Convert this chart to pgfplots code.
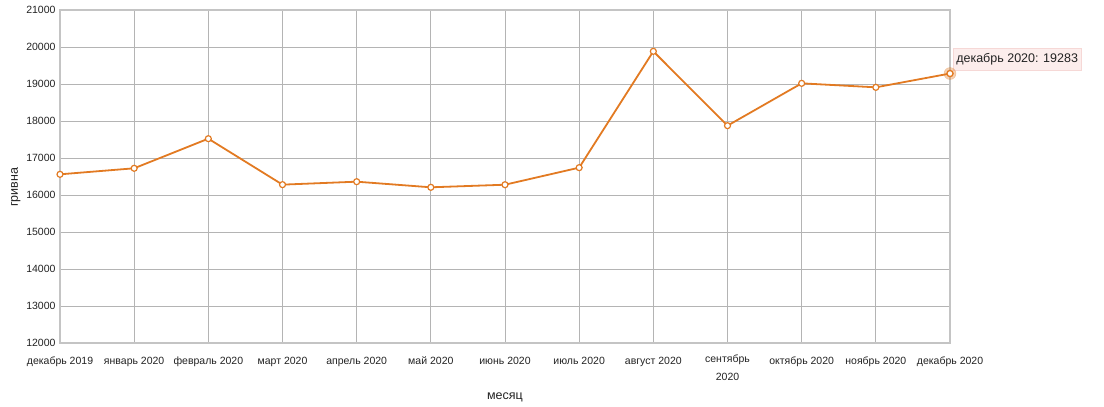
\documentclass[border=0pt]{standalone}
\usepackage{fontspec}
\setmainfont{Liberation Sans}
\usepackage{pgfplots}
\pgfplotsset{compat=1.18}
\definecolor{lineor}{HTML}{E27A22}
\definecolor{gridgray}{HTML}{B4B4B4}
\definecolor{framegray}{HTML}{C4C4C4}
\definecolor{tipfill}{HTML}{FCEDEC}
\definecolor{tipborder}{HTML}{F6D8D6}
\definecolor{txt}{HTML}{222222}
\begin{document}
\begin{tikzpicture}
\begin{axis}[
  scale only axis, width=890pt, height=333pt,
  xmin=0, xmax=12, ymin=12000, ymax=21000,
  xtick={0,...,12},
  xticklabels={декабрь 2019, январь 2020, февраль 2020, март 2020, апрель 2020, май 2020, июнь 2020, июль 2020, август 2020, {сентябрь\\2020}, октябрь 2020, ноябрь 2020, декабрь 2020},
  ytick={12000,13000,...,21000},
  scaled y ticks=false,
  yticklabel={\pgfmathprintnumber[fixed, precision=0, 1000 sep={}]{\tick}},
  /pgf/number format/assume math mode=true,
  grid=major, grid style={color=gridgray, line width=0.7pt},
  axis line style={color=framegray, line width=1.6pt},
  tick style={draw=none},
  font=\fontsize{10.5}{13}\selectfont,
  ticklabel style={font=\fontsize{10.5}{13}\selectfont, text=txt},
  xticklabel style={align=center, anchor=north, yshift=-8pt,
    font=\fontsize{10.5}{18.5}\selectfont, execute at begin node={\vphantom{Йб}}},
  yticklabel style={xshift=-1pt},
  xlabel={месяц}, ylabel={гривна},
  label style={text=txt, font=\fontsize{12.5}{15}\selectfont},
  xlabel style={yshift=-5pt},
  ylabel style={at={(ticklabel cs:0.468)}, yshift=-1pt},
  clip=false,
]
\addplot[lineor, line width=1.8pt, mark=*, mark size=3pt,
  mark options={fill=white, draw=lineor, line width=1.2pt}]
  coordinates {
  (0,16559) (1,16722) (2,17522) (3,16280) (4,16360) (5,16208) (6,16278)
  (7,16739) (8,19883) (9,17874) (10,19018) (11,18910) (12,19283)};
\addplot[only marks, color=lineor, mark=*, mark size=6pt,
  mark options={fill=lineor, draw=lineor, opacity=0.35}]
  coordinates {(12,19283)};
\addplot[only marks, color=lineor, mark=*, mark size=3pt,
  mark options={fill=white, draw=lineor, line width=1.2pt}]
  coordinates {(12,19283)};
\node[anchor=west, fill=tipfill, draw=tipborder, line width=0.6pt,
  inner xsep=3pt, inner ysep=5pt, text=txt,
  font=\fontsize{12.5}{15}\selectfont, xshift=3pt, yshift=14pt]
  at (axis cs:12,19283) {декабрь 2020: 19283};
\coordinate (ll) at (rel axis cs:0,0);
\end{axis}
\useasboundingbox ([shift={(-60pt,-64pt)}]ll) rectangle ++(1104pt,407pt);
\end{tikzpicture}
\end{document}
